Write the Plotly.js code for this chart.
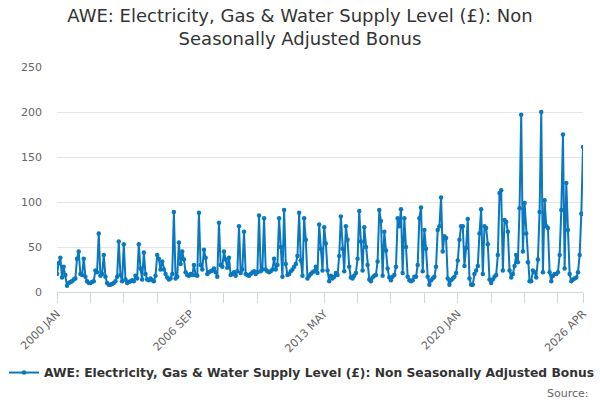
<!DOCTYPE html>
<html>
<head>
<meta charset="utf-8">
<script src="https://cdn.plot.ly/plotly-3.0.1.min.js"></script>
<style>
  html, body { margin: 0; padding: 0; background: #fff; }
  #chart { width: 600px; height: 400px; }
</style>
</head>
<body>
<div id="chart"></div>
<script>
const monthNames = ["JAN", "FEB", "MAR", "APR", "MAY", "JUN", "JUL", "AUG", "SEP", "OCT", "NOV", "DEC"];
const startYear = 2000;
const endYear = 2026;
const endMonth = 4; // APR

// bonus level in £, monthly, one row per year
const bonus = [
	20, 32, 38, 16, 28, 19, 7, 10, 11, 12, 14, 15,
	37, 45, 20, 19, 37, 17, 12, 10, 10, 11, 12, 24,
	22, 65, 18, 20, 41, 17, 10, 8, 8, 9, 10, 12,
	17, 56, 19, 12, 53, 14, 10, 11, 12, 13, 12, 18,
	15, 53, 26, 14, 44, 20, 14, 13, 15, 13, 12, 18,
	41, 37, 25, 34, 25, 20, 16, 14, 15, 20, 89, 15,
	17, 55, 31, 45, 36, 22, 19, 18, 20, 19, 30, 19,
	18, 88, 30, 25, 47, 38, 20, 22, 23, 24, 26, 22,
	17, 77, 30, 28, 45, 36, 27, 38, 19, 20, 22, 18,
	23, 73, 21, 25, 67, 20, 19, 18, 20, 22, 23, 20,
	22, 85, 23, 25, 82, 25, 23, 22, 23, 25, 37, 25,
	30, 82, 50, 17, 91, 31, 19, 20, 23, 25, 28, 31,
	40, 88, 35, 18, 82, 58, 15, 18, 20, 22, 23, 28,
	21, 75, 48, 24, 72, 54, 24, 12, 18, 15, 17, 21,
	19, 40, 84, 48, 23, 73, 58, 28, 16, 15, 18, 21,
	37, 90, 56, 24, 72, 50, 30, 14, 12, 16, 18, 19,
	34, 91, 79, 18, 67, 46, 26, 16, 13, 17, 19, 28,
	82, 73, 92, 21, 82, 50, 17, 13, 12, 13, 17, 17,
	30, 82, 94, 23, 69, 48, 17, 8, 13, 15, 17, 28,
	69, 73, 105, 45, 62, 60, 15, 8, 13, 15, 17, 21,
	35, 58, 73, 73, 29, 49, 81, 15, 8, 8, 20, 24,
	29, 65, 92, 20, 73, 71, 53, 14, 10, 14, 17, 19,
	41, 110, 113, 24, 80, 78, 67, 24, 16, 20, 29, 41,
	33, 93, 197, 45, 99, 65, 33, 12, 12, 24, 22, 16,
	36, 89, 200, 22, 102, 73, 71, 22, 12, 18, 20, 20,
	22, 41, 91, 175, 26, 121, 69, 20, 12, 14, 15, 16,
	22, 41, 87, 161
];

const yTicks = [0, 50, 100, 150, 200, 250];
const seriesName = "AWE: Electricity, Gas & Water Supply Level (£): Non Seasonally Adjusted Bonus";

let months = [];
for (let y = startYear; y <= endYear; y++) {
	for (let m = 0; m < 12; m++) {
		if (y == endYear && m >= endMonth) break;
		months.push(y + " " + monthNames[m]);
	}
}

// minor ticks every 20 months, labels every 80 plus the last one
let tickVals = [];
let tickText = [];
for (let i = 0; i < months.length; i += 20) {
	tickVals.push(months[i]);
	tickText.push(i % 80 == 0 ? months[i] : "");
}
tickVals.push(months[months.length - 1]);
tickText.push(months[months.length - 1]);

const data = [{
	type: "scatter",
	mode: "lines+markers",
	x: months,
	y: bonus,
	name: seriesName,
	line: { color: "#0a78be", width: 2 },
	marker: { color: "#0a78be", size: 4.5 }
}];

const layout = {
	width: 600,
	height: 400,
	font: { family: "DejaVu Sans, sans-serif", color: "#666666", size: 11 },
	paper_bgcolor: "#ffffff",
	plot_bgcolor: "#ffffff",
	margin: { l: 47, r: 17, t: 67, b: 108 },
	title: {
		text: "AWE: Electricity, Gas & Water Supply Level (£): Non<br>Seasonally Adjusted Bonus",
		font: { family: "DejaVu Sans, sans-serif", size: 18, color: "#333333" },
		x: 0.5,
		xanchor: "center",
		y: 0.945,
		yanchor: "top",
		yref: "container"
	},
	xaxis: {
		type: "category",
		range: [0, months.length - 1],
		tickmode: "array",
		tickvals: tickVals,
		ticktext: tickText,
		tickangle: -45,
		ticks: "outside",
		ticklen: 10,
		tickcolor: "#ccd6eb",
		showline: true,
		linecolor: "#ccd6eb",
		linewidth: 1,
		showgrid: false,
		zeroline: false,
		fixedrange: true
	},
	yaxis: {
		range: [0, 250],
		tickmode: "array",
		tickvals: yTicks,
		gridcolor: "#e6e6e6",
		zeroline: false,
		showline: false,
		ticks: "",
		ticklabelstandoff: 14,
		fixedrange: true
	},
	showlegend: true,
	legend: {
		orientation: "h",
		x: -0.086,
		xanchor: "left",
		y: -0.358,
		yanchor: "middle",
		font: { family: "DejaVu Sans, sans-serif", size: 12.3, color: "#333333", weight: "bold" },
		itemwidth: 30
	},
	annotations: [{
		text: "Source:",
		xref: "paper",
		yref: "paper",
		x: 1.016,
		xanchor: "right",
		y: -0.452,
		yanchor: "middle",
		showarrow: false,
		font: { family: "DejaVu Sans, sans-serif", size: 11, color: "#666666" }
	}]
};

Plotly.newPlot("chart", data, layout, { displayModeBar: false, staticPlot: true });
</script>
</body>
</html>
